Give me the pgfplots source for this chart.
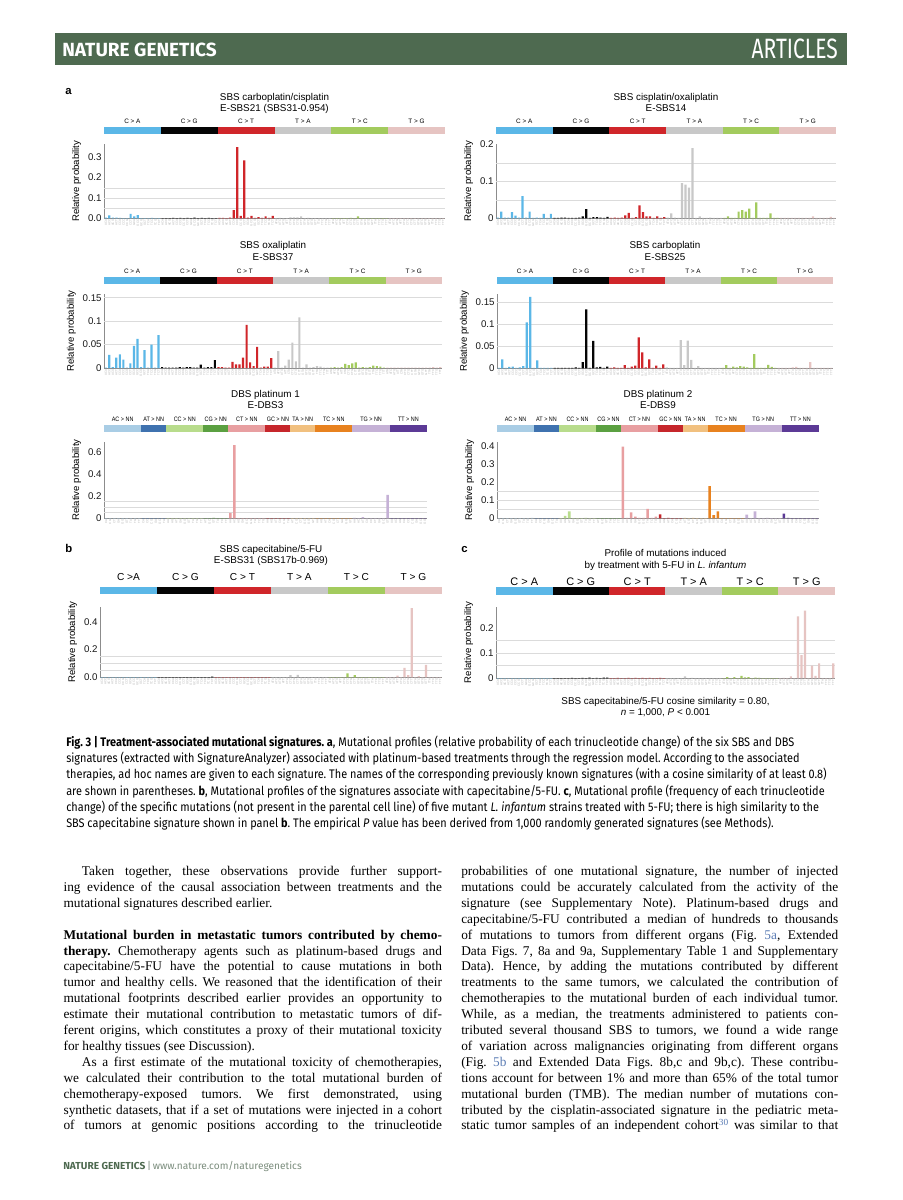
\documentclass[border=0pt]{standalone}
\usepackage{fontspec}
\setmainfont{Liberation Serif}
\newfontfamily\hel{Liberation Sans}
\newfontfamily\helN[FakeStretch=0.85]{Liberation Sans}
\newfontfamily\capf[FakeStretch=0.88]{Fira Sans}
\newfontfamily\fira{Fira Sans}
\newfontfamily\firaN[FakeStretch=0.75]{Fira Sans}
\usepackage{pgfplots}
\usepackage{pgfplotstable}
\pgfplotsset{compat=1.18}
\frenchspacing

\definecolor{hdr}{HTML}{4E6A50}
\definecolor{urlc}{HTML}{7C8E7E}
\definecolor{refb}{HTML}{5C7DB5}
\definecolor{cCA}{HTML}{5BB7E7}
\definecolor{cCG}{HTML}{050505}
\definecolor{cCT}{HTML}{D0262A}
\definecolor{cTA}{HTML}{C8C8C8}
\definecolor{cTC}{HTML}{A3CB5E}
\definecolor{cTG}{HTML}{E6C4C2}
\definecolor{dAC}{HTML}{A9CDE5}
\definecolor{dAT}{HTML}{3F72AF}
\definecolor{dCC}{HTML}{B8DC8C}
\definecolor{dCG}{HTML}{5BA041}
\definecolor{dCT}{HTML}{E89FA1}
\definecolor{dGC}{HTML}{C6262B}
\definecolor{dTA}{HTML}{F1C07F}
\definecolor{dTC}{HTML}{E8821F}
\definecolor{dTG}{HTML}{C5B1D6}
\definecolor{dTT}{HTML}{5C3A96}

% ---------------- data ----------------
\pgfplotstableread{
CA CG CT TA TC TG
0.003 0.001 0.002 0.001 0.001 0.001
0.015 0.001 0.002 0.002 0.001 0.001
0.003 0.001 0.001 0.001 0.001 0.001
0.003 0.002 0.003 0.001 0.001 0.001
0.002 0.001 0.040 0.004 0.001 0.001
0.001 0.002 0.350 0.005 0.002 0.001
0.001 0.001 0.012 0.004 0.001 0.001
0.022 0.002 0.285 0.010 0.010 0.001
0.010 0.001 0.003 0.001 0.001 0.001
0.016 0.003 0.012 0.002 0.001 0.001
0.001 0.001 0.002 0.001 0.001 0.001
0.001 0.002 0.006 0.001 0.001 0.001
0.001 0.001 0.002 0.001 0.001 0.001
0.002 0.002 0.009 0.001 0.001 0.001
0.001 0.001 0.002 0.001 0.001 0.001
0.001 0.001 0.012 0.001 0.001 0.001
}\tA
\pgfplotstableread{
CA CG CT TA TC TG
0.002 0.001 0.001 0.002 0.001 0.001
0.018 0.001 0.002 0.013 0.005 0.001
0.002 0.002 0.001 0.002 0.001 0.001
0.002 0.002 0.002 0.001 0.001 0.001
0.017 0.001 0.008 0.095 0.018 0.001
0.007 0.001 0.015 0.091 0.022 0.001
0.002 0.001 0.001 0.083 0.018 0.001
0.060 0.002 0.003 0.190 0.026 0.001
0.002 0.005 0.035 0.001 0.001 0.001
0.018 0.025 0.017 0.005 0.043 0.005
0.001 0.001 0.005 0.001 0.001 0.001
0.002 0.003 0.005 0.001 0.001 0.001
0.001 0.003 0.001 0.002 0.001 0.001
0.012 0.002 0.005 0.001 0.013 0.001
0.001 0.001 0.001 0.001 0.001 0.004
0.012 0.004 0.003 0.001 0.001 0.001
}\tB
\pgfplotstableread{
CA CG CT TA TC TG
0.001 0.002 0.002 0.001 0.001 0.001
0.028 0.001 0.002 0.036 0.002 0.001
0.002 0.001 0.001 0.001 0.001 0.001
0.022 0.001 0.001 0.005 0.002 0.001
0.029 0.001 0.013 0.018 0.009 0.001
0.018 0.002 0.008 0.054 0.006 0.001
0.001 0.001 0.008 0.014 0.010 0.001
0.010 0.002 0.022 0.108 0.012 0.001
0.047 0.002 0.092 0.001 0.001 0.001
0.062 0.001 0.012 0.008 0.002 0.001
0.002 0.001 0.004 0.001 0.001 0.001
0.038 0.007 0.045 0.002 0.002 0.001
0.001 0.001 0.001 0.004 0.005 0.001
0.050 0.002 0.003 0.003 0.004 0.002
0.001 0.002 0.003 0.001 0.003 0.001
0.070 0.017 0.021 0.001 0.001 0.002
}\tC
\pgfplotstableread{
CA CG CT TA TC TG
0.001 0.001 0.001 0.002 0.001 0.001
0.020 0.001 0.002 0.001 0.007 0.001
0.001 0.001 0.001 0.001 0.001 0.001
0.003 0.001 0.001 0.001 0.004 0.001
0.004 0.001 0.007 0.064 0.002 0.002
0.001 0.001 0.001 0.007 0.005 0.003
0.002 0.002 0.004 0.063 0.004 0.001
0.005 0.001 0.006 0.019 0.002 0.001
0.104 0.014 0.070 0.001 0.001 0.001
0.162 0.134 0.036 0.005 0.032 0.014
0.001 0.001 0.002 0.001 0.001 0.001
0.018 0.062 0.020 0.001 0.001 0.001
0.001 0.002 0.001 0.001 0.001 0.001
0.001 0.003 0.006 0.001 0.008 0.001
0.001 0.001 0.001 0.001 0.003 0.001
0.001 0.004 0.009 0.001 0.001 0.001
}\tD
\pgfplotstableread{
CA CG CT TA TC TG
0.001 0.001 0.001 0.001 0.001 0.001
0.001 0.001 0.001 0.001 0.001 0.001
0.001 0.001 0.001 0.001 0.001 0.001
0.001 0.002 0.001 0.001 0.001 0.012
0.001 0.001 0.001 0.001 0.001 0.001
0.001 0.001 0.001 0.015 0.028 0.068
0.001 0.001 0.001 0.001 0.002 0.015
0.001 0.001 0.001 0.018 0.015 0.500
0.001 0.001 0.001 0.001 0.001 0.002
0.001 0.001 0.001 0.001 0.001 0.008
0.001 0.001 0.001 0.001 0.001 0.001
0.001 0.001 0.001 0.001 0.001 0.090
0.001 0.001 0.001 0.001 0.001 0.001
0.001 0.001 0.001 0.001 0.001 0.001
0.001 0.001 0.001 0.001 0.001 0.001
0.001 0.005 0.001 0.001 0.001 0.001
}\tE
\pgfplotstableread{
CA CG CT TA TC TG
0.001 0.001 0.001 0.001 0.001 0.001
0.001 0.001 0.001 0.001 0.005 0.002
0.001 0.001 0.002 0.001 0.001 0.001
0.001 0.001 0.001 0.001 0.005 0.008
0.001 0.001 0.001 0.001 0.001 0.001
0.001 0.002 0.002 0.008 0.010 0.245
0.001 0.001 0.001 0.001 0.004 0.092
0.001 0.001 0.002 0.002 0.005 0.268
0.001 0.002 0.001 0.001 0.001 0.001
0.001 0.001 0.002 0.001 0.003 0.050
0.001 0.003 0.001 0.001 0.002 0.010
0.001 0.001 0.002 0.001 0.001 0.059
0.001 0.002 0.001 0.001 0.001 0.001
0.001 0.001 0.001 0.001 0.001 0.001
0.001 0.003 0.002 0.001 0.001 0.001
0.001 0.003 0.001 0.001 0.001 0.059
}\tF
\pgfplotstableread{
AC AT CC CG CT GC TA TC TG TT
0.001 0.001 0.001 0.001 0.050 0.001 0.001 0.001 0.004 0.001
0.001 0.001 0.001 0.001 0.660 0.001 0.001 0.001 0.001 0.001
0.001 0.001 0.001 0.003 0.002 0.001 0.001 0.001 0.010 0.001
0.001 0.001 0.001 0.001 0.002 0.001 0.001 0.001 0.001 0.001
0.001 0.001 0.001 0.001 0.002 0.001 0.001 0.001 0.001 0.001
0.001 0.001 0.001 0.001 0.002 0.001 0.001 0.002 0.001 0.001
0.001 nan 0.001 nan 0.002 nan nan 0.001 0.001 0.001
0.001 nan 0.001 nan 0.001 nan nan 0.001 0.001 0.001
0.001 nan 0.001 nan 0.001 nan nan 0.001 0.210 0.001
}\tG
\pgfplotstableread{
AC AT CC CG CT GC TA TC TG TT
0.001 0.001 0.001 0.001 0.400 0.022 0.002 0.180 0.020 0.026
0.001 0.001 0.013 0.001 0.002 0.001 0.001 0.018 0.001 0.003
0.001 0.001 0.038 0.001 0.033 0.002 0.002 0.038 0.038 0.001
0.001 0.001 0.001 0.001 0.010 0.001 0.001 0.001 0.001 0.001
0.001 0.001 0.001 0.001 0.002 0.001 0.001 0.001 0.001 0.001
0.001 0.001 0.001 0.001 0.002 0.001 0.001 0.001 0.003 0.001
0.001 nan 0.002 nan 0.053 nan nan 0.001 0.001 0.001
0.001 nan 0.001 nan 0.002 nan nan 0.001 0.001 0.001
0.003 nan 0.001 nan 0.010 nan nan 0.001 0.001 0.001
}\tH

% ---------------- styles ----------------
\pgfplotsset{
 sb/.style={fill=#1, draw=none, bar shift=0pt, bar width=0.62},
 sigaxis/.style={
   scale only axis, ybar, ymin=0, clip=false, enlargelimits=false,
   axis x line*=bottom, axis y line*=left,
   axis line style={draw=black!45, line width=0.45pt},
   major tick length=0pt,
   yticklabel style={font=\hel\fontsize{7.3}{8}\selectfont, text=black!90, inner sep=1.6pt},
   xticklabel style={font=\hel\fontsize{2.2}{2.4}\selectfont, rotate=90, anchor=east, text=black!30, inner sep=0.8pt},
   ylabel={Relative probability},
   ylabel style={font=\hel\fontsize{7.2}{8}\selectfont},
   extra y ticks={0.05,0.1,0.15}, extra y tick labels={},
   extra y tick style={grid=major, major grid style={draw=black!14, line width=0.4pt}},
 },
 sbs/.style={sigaxis, xmin=-0.5, xmax=95.5, xtick={0,...,95},
   xticklabels={ACA,ACC,ACG,ACT,CCA,CCC,CCG,CCT,GCA,GCC,GCG,GCT,TCA,TCC,TCG,TCT,
                ACA,ACC,ACG,ACT,CCA,CCC,CCG,CCT,GCA,GCC,GCG,GCT,TCA,TCC,TCG,TCT,
                ACA,ACC,ACG,ACT,CCA,CCC,CCG,CCT,GCA,GCC,GCG,GCT,TCA,TCC,TCG,TCT,
                ATA,ATC,ATG,ATT,CTA,CTC,CTG,CTT,GTA,GTC,GTG,GTT,TTA,TTC,TTG,TTT,
                ATA,ATC,ATG,ATT,CTA,CTC,CTG,CTT,GTA,GTC,GTG,GTT,TTA,TTC,TTG,TTT,
                ATA,ATC,ATG,ATT,CTA,CTC,CTG,CTT,GTA,GTC,GTG,GTT,TTA,TTC,TTG,TTT}},
 dbs/.style={sigaxis, xmin=-0.5, xmax=77.5, xtick={0,...,77},
   xticklabels={CA,CG,CT,GA,GG,GT,TA,TG,TT, CA,CC,CG,GA,GC,TA,
                AA,AG,AT,GA,GG,GT,TA,TG,TT, AT,GC,GT,TA,TC,TT,
                AA,AC,AG,GA,GC,GG,TA,TC,TG, AA,AG,AT,CA,CG,TA,
                AT,CG,CT,GC,GG,GT, AA,AG,AT,CA,CG,CT,GA,GG,GT,
                AA,AC,AT,CA,CC,CT,GA,GC,GT, AA,AC,AG,CA,CC,CG,GA,GC,GG}},
}

\newcommand{\sbsbars}[1]{%
 \addplot[sb=cCA] table[x expr=\coordindex, y=CA]{#1};
 \addplot[sb=cCG] table[x expr=\coordindex+16, y=CG]{#1};
 \addplot[sb=cCT] table[x expr=\coordindex+32, y=CT]{#1};
 \addplot[sb=cTA] table[x expr=\coordindex+48, y=TA]{#1};
 \addplot[sb=cTC] table[x expr=\coordindex+64, y=TC]{#1};
 \addplot[sb=cTG] table[x expr=\coordindex+80, y=TG]{#1};}
\newcommand{\dbsbars}[1]{%
 \addplot[sb=dAC] table[x expr=\coordindex, y=AC]{#1};
 \addplot[sb=dAT] table[x expr=\coordindex+9, y=AT]{#1};
 \addplot[sb=dCC] table[x expr=\coordindex+15, y=CC]{#1};
 \addplot[sb=dCG] table[x expr=\coordindex+24, y=CG]{#1};
 \addplot[sb=dCT] table[x expr=\coordindex+30, y=CT]{#1};
 \addplot[sb=dGC] table[x expr=\coordindex+39, y=GC]{#1};
 \addplot[sb=dTA] table[x expr=\coordindex+45, y=TA]{#1};
 \addplot[sb=dTC] table[x expr=\coordindex+51, y=TC]{#1};
 \addplot[sb=dTG] table[x expr=\coordindex+60, y=TG]{#1};
 \addplot[sb=dTT] table[x expr=\coordindex+69, y=TT]{#1};}
% #1 ymax, #2 strip bottom, #3 strip top, #4 label baseline, #5 label font, #6 first label
\newcommand{\sbsstrip}[6]{%
 \fill[cCA] ([yshift=#2]axis cs:-0.5,#1) rectangle ([yshift=#3]axis cs:15.5,#1);
 \fill[cCG] ([yshift=#2]axis cs:15.5,#1) rectangle ([yshift=#3]axis cs:31.5,#1);
 \fill[cCT] ([yshift=#2]axis cs:31.5,#1) rectangle ([yshift=#3]axis cs:47.5,#1);
 \fill[cTA] ([yshift=#2]axis cs:47.5,#1) rectangle ([yshift=#3]axis cs:63.5,#1);
 \fill[cTC] ([yshift=#2]axis cs:63.5,#1) rectangle ([yshift=#3]axis cs:79.5,#1);
 \fill[cTG] ([yshift=#2]axis cs:79.5,#1) rectangle ([yshift=#3]axis cs:95.5,#1);
 \node[anchor=base, inner sep=0, font=#5] at ([yshift=#4]axis cs:7.5,#1) {#6};
 \node[anchor=base, inner sep=0, font=#5] at ([yshift=#4]axis cs:23.5,#1) {C > G};
 \node[anchor=base, inner sep=0, font=#5] at ([yshift=#4]axis cs:39.5,#1) {C > T};
 \node[anchor=base, inner sep=0, font=#5] at ([yshift=#4]axis cs:55.5,#1) {T > A};
 \node[anchor=base, inner sep=0, font=#5] at ([yshift=#4]axis cs:71.5,#1) {T > C};
 \node[anchor=base, inner sep=0, font=#5] at ([yshift=#4]axis cs:87.5,#1) {T > G};}
\newcommand{\dbsstrip}[1]{%
 \fill[dAC] ([yshift=7.5pt]axis cs:-0.5,#1) rectangle ([yshift=12.5pt]axis cs:8.5,#1);
 \fill[dAT] ([yshift=7.5pt]axis cs:8.5,#1) rectangle ([yshift=12.5pt]axis cs:14.5,#1);
 \fill[dCC] ([yshift=7.5pt]axis cs:14.5,#1) rectangle ([yshift=12.5pt]axis cs:23.5,#1);
 \fill[dCG] ([yshift=7.5pt]axis cs:23.5,#1) rectangle ([yshift=12.5pt]axis cs:29.5,#1);
 \fill[dCT] ([yshift=7.5pt]axis cs:29.5,#1) rectangle ([yshift=12.5pt]axis cs:38.5,#1);
 \fill[dGC] ([yshift=7.5pt]axis cs:38.5,#1) rectangle ([yshift=12.5pt]axis cs:44.5,#1);
 \fill[dTA] ([yshift=7.5pt]axis cs:44.5,#1) rectangle ([yshift=12.5pt]axis cs:50.5,#1);
 \fill[dTC] ([yshift=7.5pt]axis cs:50.5,#1) rectangle ([yshift=12.5pt]axis cs:59.5,#1);
 \fill[dTG] ([yshift=7.5pt]axis cs:59.5,#1) rectangle ([yshift=12.5pt]axis cs:68.5,#1);
 \fill[dTT] ([yshift=7.5pt]axis cs:68.5,#1) rectangle ([yshift=12.5pt]axis cs:77.5,#1);
 \foreach \xx/\tt in {4/AC,11.5/AT,19/CC,26.5/CG,34/CT,41.5/GC,47.5/TA,55/TC,64/TG,73/TT}{%
   \edef\tmp{\noexpand\node[anchor=base, inner sep=0, font=\noexpand\helN\noexpand\fontsize{4.8}{5}\noexpand\selectfont] at ([yshift=15.3pt]axis cs:\xx,#1) {\tt\space>\space NN};}\tmp}}
% #1 x centre, #2 ymax, #3 line1, #4 line2, #5 shift1, #6 shift2
\newcommand{\ptitle}[6]{%
 \node[anchor=base, inner sep=0, font=\hel\fontsize{7.4}{8}\selectfont] at ([yshift=#5]axis cs:#1,#2) {#3};
 \node[anchor=base, inner sep=0, font=\hel\fontsize{7.4}{8}\selectfont] at ([yshift=#6]axis cs:#1,#2) {#4};}

\newcommand{\bodyf}{\fontsize{10}{12}\selectfont}
\newcommand{\jl}[4]{\node[anchor=base west, inner sep=0, font=\bodyf] at (#1,#2) {\makebox[#3][s]{#4}};}
\newcommand{\rl}[3]{\node[anchor=base west, inner sep=0, font=\bodyf] at (#1,#2) {#3};}
\newcommand{\cl}[2]{\node[anchor=base west, inner sep=0, font=\capf\fontsize{9.3}{11}\selectfont] at (66,#1) {#2};}

\begin{document}
\begin{tikzpicture}
\begin{scope}[x=0.75pt,y=-0.75pt]
\fill[white] (0,0) rectangle (903,1200);
% header
\fill[hdr] (55,33) rectangle (847,64.5);
\node[anchor=base west, inner sep=0, text=white, font=\fira\bfseries\fontsize{14.3}{15}\selectfont] at (62,56) {NATURE GENETICS};
\node[anchor=base east, inner sep=0, text=white, font=\firaN\fontsize{21}{22}\selectfont] at (838,58.5) {ARTICLES};
% panel letters
\node[anchor=base west, inner sep=0, font=\hel\bfseries\fontsize{8.5}{9}\selectfont] at (65,94) {a};
\node[anchor=base west, inner sep=0, font=\hel\bfseries\fontsize{8.5}{9}\selectfont] at (65,552) {b};
\node[anchor=base west, inner sep=0, font=\hel\bfseries\fontsize{8.5}{9}\selectfont] at (461,552) {c};
% caption
\cl{746.5}{\textbf{Fig. 3 | Treatment-associated mutational signatures. a}, Mutational profiles (relative probability of each trinucleotide change) of the six SBS and DBS}
\cl{762.7}{signatures (extracted with SignatureAnalyzer) associated with platinum-based treatments through the regression model. According to the associated}
\cl{778.9}{therapies, ad hoc names are given to each signature. The names of the corresponding previously known signatures (with a cosine similarity of at least 0.8)}
\cl{795.1}{are shown in parentheses. \textbf{b}, Mutational profiles of the signatures associate with capecitabine/5-FU. \textbf{c}, Mutational profile (frequency of each trinucleotide}
\cl{811.3}{change) of the specific mutations (not present in the parental cell line) of five mutant \textit{L. infantum} strains treated with 5-FU; there is high similarity to the}
\cl{827.5}{SBS capecitabine signature shown in panel \textbf{b}. The empirical \textit{P} value has been derived from 1,000 randomly generated signatures (see Methods).}
% left column
\jl{81.7}{875.5}{270pt}{Taken together, these observations provide further support-}
\jl{63.3}{891.4}{283.8pt}{ing evidence of the causal association between treatments and the}
\rl{63.3}{907.3}{mutational signatures described earlier.}
\jl{63.3}{939.1}{283.8pt}{\textbf{Mutational burden in metastatic tumors contributed by chemo-}}
\jl{63.3}{955.0}{283.8pt}{\textbf{therapy.} Chemotherapy agents such as platinum-based drugs and}
\jl{63.3}{970.9}{283.8pt}{capecitabine/5-FU have the potential to cause mutations in both}
\jl{63.3}{986.8}{283.8pt}{tumor and healthy cells. We reasoned that the identification of their}
\jl{63.3}{1002.7}{283.8pt}{mutational footprints described earlier provides an opportunity to}
\jl{63.3}{1018.6}{283.8pt}{estimate their mutational contribution to metastatic tumors of dif-}
\jl{63.3}{1034.5}{283.8pt}{ferent origins, which constitutes a proxy of their mutational toxicity}
\rl{63.3}{1050.4}{for healthy tissues (see Discussion).}
\jl{81.7}{1066.3}{270pt}{As a first estimate of the mutational toxicity of chemotherapies,}
\jl{63.3}{1082.2}{283.8pt}{we calculated their contribution to the total mutational burden of}
\jl{63.3}{1098.1}{283.8pt}{chemotherapy-exposed tumors. We first demonstrated, using}
\jl{63.3}{1114.0}{283.8pt}{synthetic datasets, that if a set of mutations were injected in a cohort}
\jl{63.3}{1129.9}{283.8pt}{of tumors at genomic positions according to the trinucleotide}
% right column
\jl{461}{875.5}{282.7pt}{probabilities of one mutational signature, the number of injected}
\jl{461}{891.4}{282.7pt}{mutations could be accurately calculated from the activity of the}
\jl{461}{907.3}{282.7pt}{signature (see Supplementary Note). Platinum-based drugs and}
\jl{461}{923.2}{282.7pt}{capecitabine/5-FU contributed a median of hundreds to thousands}
\jl{461}{939.1}{282.7pt}{of mutations to tumors from different organs (Fig. \textcolor{refb}{5a}, Extended}
\jl{461}{955.0}{282.7pt}{Data Figs. 7, 8a and 9a, Supplementary Table 1 and Supplementary}
\jl{461}{970.9}{282.7pt}{Data). Hence, by adding the mutations contributed by different}
\jl{461}{986.8}{282.7pt}{treatments to the same tumors, we calculated the contribution of}
\jl{461}{1002.7}{282.7pt}{chemotherapies to the mutational burden of each individual tumor.}
\jl{461}{1018.6}{282.7pt}{While, as a median, the treatments administered to patients con-}
\jl{461}{1034.5}{282.7pt}{tributed several thousand SBS to tumors, we found a wide range}
\jl{461}{1050.4}{282.7pt}{of variation across malignancies originating from different organs}
\jl{461}{1066.3}{282.7pt}{(Fig. \textcolor{refb}{5b} and Extended Data Figs. 8b,c and 9b,c). These contribu-}
\jl{461}{1082.2}{282.7pt}{tions account for between 1\% and more than 65\% of the total tumor}
\jl{461}{1098.1}{282.7pt}{mutational burden (TMB). The median number of mutations con-}
\jl{461}{1114.0}{282.7pt}{tributed by the cisplatin-associated signature in the pediatric meta-}
\jl{461}{1129.9}{282.7pt}{static tumor samples of an independent cohort\textsuperscript{\textcolor{refb}{30}} was similar to that}
% footer
\node[anchor=base west, inner sep=0, font=\fira\fontsize{7.6}{8}\selectfont] at (63,1169) {\textcolor{hdr}{\bfseries NATURE GENETICS}\,\textcolor{urlc}{|\,www.nature.com/naturegenetics}};
\end{scope}

% ---------- a1 ----------
\begin{axis}[sbs, at={(78pt,-163.725pt)}, anchor=south west, width=255.75pt, height=55.5pt,
  ymax=0.364, ytick={0,0.1,0.2,0.3}, yticklabels={0.0,0.1,0.2,0.3}]
\sbsbars{\tA}
\sbsstrip{0.364}{7.5pt}{13.2pt}{15.4pt}{\hel\fontsize{4.8}{5}\selectfont}{C > A}
\ptitle{47.5}{0.364}{SBS carboplatin/cisplatin}{E-SBS21 (SBS31-0.954)}{33.2pt}{24.4pt}
\end{axis}
% ---------- a2 ----------
\begin{axis}[sbs, at={(372pt,-163.725pt)}, anchor=south west, width=255pt, height=55.5pt,
  ymax=0.2, ytick={0,0.1,0.2}, yticklabels={0,0.1,0.2}]
\sbsbars{\tB}
\sbsstrip{0.2}{7.5pt}{13.2pt}{15.4pt}{\hel\fontsize{4.8}{5}\selectfont}{C > A}
\ptitle{47.5}{0.2}{SBS cisplatin/oxaliplatin}{E-SBS14}{33.2pt}{24.4pt}
\end{axis}
% ---------- a3 ----------
\begin{axis}[sbs, at={(78pt,-276pt)}, anchor=south west, width=253.5pt, height=55.5pt,
  ymax=0.158, ytick={0,0.05,0.1,0.15}, yticklabels={0,0.05,0.1,0.15}]
\sbsbars{\tC}
\sbsstrip{0.158}{7.5pt}{13pt}{15.6pt}{\hel\fontsize{4.8}{5}\selectfont}{C > A}
\ptitle{47.5}{0.158}{SBS oxaliplatin}{E-SBS37}{34pt}{25pt}
\end{axis}
% ---------- a4 ----------
\begin{axis}[sbs, at={(372.75pt,-276.225pt)}, anchor=south west, width=252pt, height=55.5pt,
  ymax=0.168, ytick={0,0.05,0.1,0.15}, yticklabels={0,0.05,0.1,0.15}]
\sbsbars{\tD}
\sbsstrip{0.168}{7.5pt}{13pt}{15.6pt}{\hel\fontsize{4.8}{5}\selectfont}{C > A}
\ptitle{47.5}{0.168}{SBS carboplatin}{E-SBS25}{34pt}{25pt}
\end{axis}
% ---------- DBS1 ----------
\begin{axis}[dbs, at={(78pt,-388.725pt)}, anchor=south west, width=242.25pt, height=57.45pt,
  ymax=0.69, ytick={0,0.2,0.4,0.6}, yticklabels={0,0.2,0.4,0.6}]
\dbsbars{\tG}
\dbsstrip{0.69}
\ptitle{38.5}{0.69}{DBS platinum 1}{E-DBS3}{33.5pt}{24.8pt}
\end{axis}
% ---------- DBS2 ----------
\begin{axis}[dbs, at={(372.75pt,-388.725pt)}, anchor=south west, width=241.5pt, height=57.2pt,
  ymax=0.425, ytick={0,0.1,0.2,0.3,0.4}, yticklabels={0,0.1,0.2,0.3,0.4}]
\dbsbars{\tH}
\dbsstrip{0.425}
\ptitle{38.5}{0.425}{DBS platinum 2}{E-DBS9}{33.5pt}{24.8pt}
\end{axis}
% ---------- b ----------
\begin{axis}[sbs, at={(75pt,-507.975pt)}, anchor=south west, width=256.5pt, height=52.95pt,
  ymax=0.51, ytick={0,0.2,0.4}, yticklabels={0.0,0.2,0.4}]
\sbsbars{\tE}
\sbsstrip{0.51}{9.3pt}{15pt}{19.9pt}{\hel\fontsize{7.6}{8}\selectfont}{C >A}
\ptitle{47.5}{0.51}{SBS capecitabine/5-FU}{E-SBS31 (SBS17b-0.969)}{41pt}{32.2pt}
\end{axis}
% ---------- c ----------
\begin{axis}[sbs, at={(372pt,-508.725pt)}, anchor=south west, width=254.25pt, height=53.7pt,
  ymax=0.283, ytick={0,0.1,0.2}, yticklabels={0,0.1,0.2}]
\sbsbars{\tF}
\sbsstrip{0.283}{8.8pt}{14.5pt}{16.1pt}{\hel\fontsize{8.2}{9}\selectfont}{C > A}
\ptitle{47.5}{0.283}{Profile of mutations induced}{by treatment with 5-FU in \textit{L. infantum}}{37.3pt}{29pt}
\node[anchor=base, inner sep=0, font=\hel\fontsize{7.4}{8}\selectfont] at ([yshift=-19.8pt]axis cs:47.5,0) {SBS capecitabine/5-FU cosine similarity = 0.80,};
\node[anchor=base, inner sep=0, font=\hel\fontsize{7.4}{8}\selectfont] at ([yshift=-28pt]axis cs:47.5,0) {\textit{n} = 1,000, \textit{P} < 0.001};
\end{axis}
\end{tikzpicture}
\end{document}
